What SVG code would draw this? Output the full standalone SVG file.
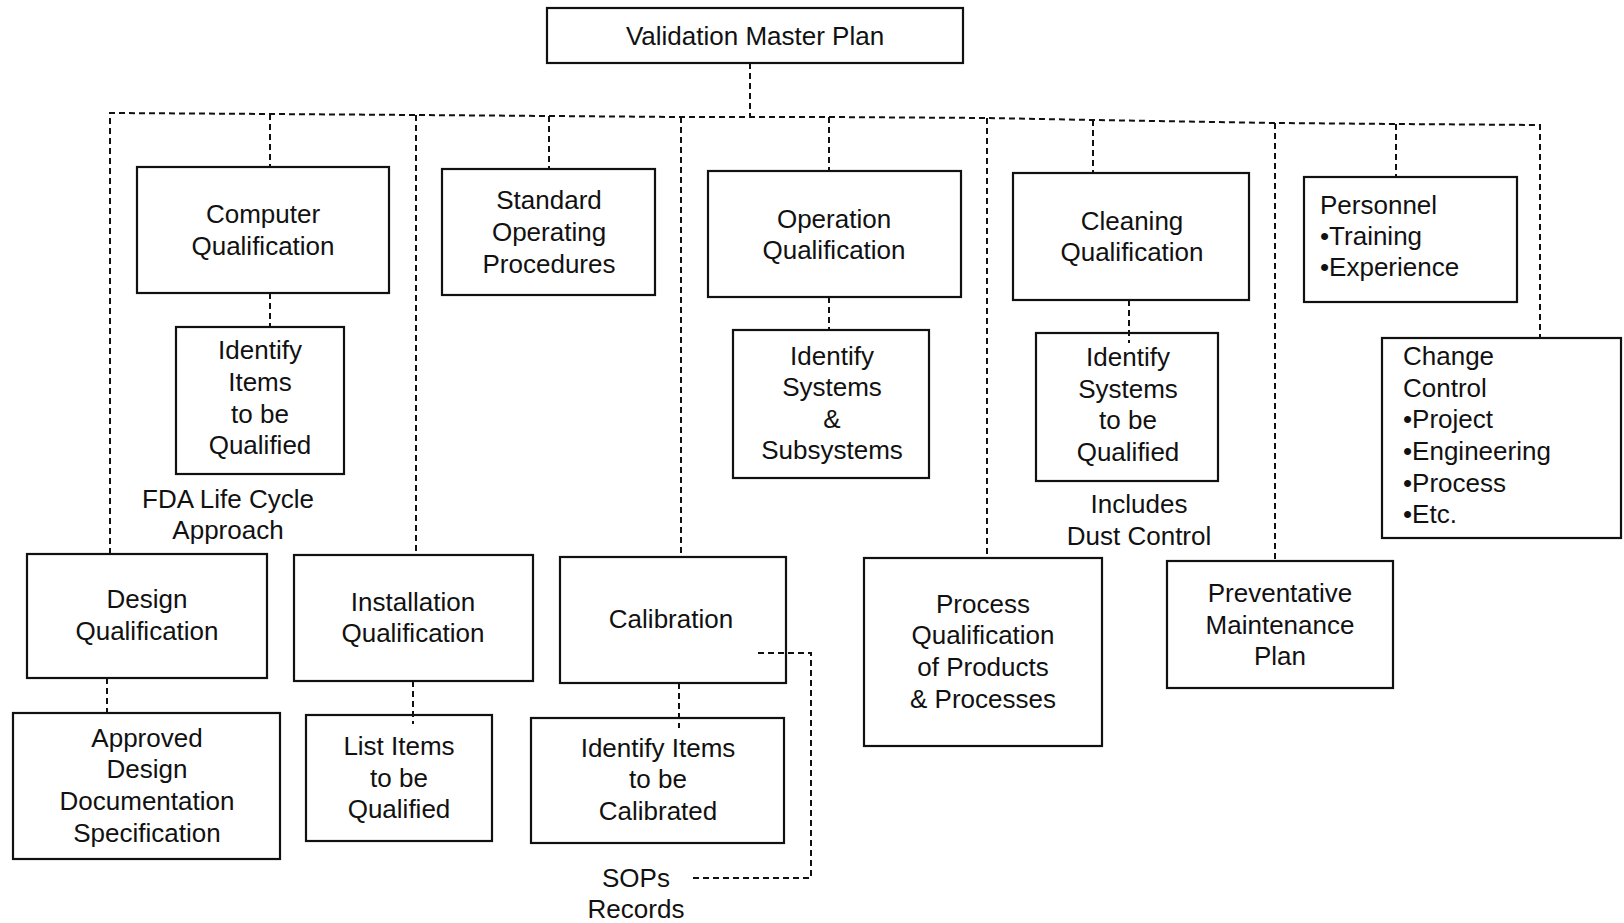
<svg xmlns="http://www.w3.org/2000/svg" width="1624" height="923" viewBox="0 0 1624 923">
<style>
.box{fill:#fff;stroke:#111;stroke-width:2.2}
.dash{fill:none;stroke:#111;stroke-width:2;stroke-dasharray:6 4}
text{font-family:"Liberation Sans",Arial,Helvetica,sans-serif;font-size:26px;fill:#111}
.c{text-anchor:middle}
</style>
<rect width="1624" height="923" fill="#fff"/>
<g id="vmp"><rect class="box" x="547" y="8" width="416" height="55"/><text class="c" x="755" y="45">Validation Master Plan</text></g>
<g id="computer-qual"><rect class="box" x="137" y="167" width="252" height="126"/><text class="c" x="263" y="223">Computer</text><text class="c" x="263" y="255">Qualification</text></g>
<g id="sop"><rect class="box" x="442" y="169" width="213" height="126"/><text class="c" x="549" y="209">Standard</text><text class="c" x="549" y="241">Operating</text><text class="c" x="549" y="273">Procedures</text></g>
<g id="operation-qual"><rect class="box" x="708" y="171" width="253" height="126"/><text class="c" x="834" y="228">Operation</text><text class="c" x="834" y="259">Qualification</text></g>
<g id="cleaning-qual"><rect class="box" x="1013" y="173" width="236" height="127"/><text class="c" x="1132" y="230">Cleaning</text><text class="c" x="1132" y="261">Qualification</text></g>
<g id="personnel"><rect class="box" x="1304" y="177" width="213" height="125"/><text x="1320" y="214">Personnel</text><text x="1320" y="245">•Training</text><text x="1320" y="276">•Experience</text></g>
<g id="identify-items"><rect class="box" x="176" y="327" width="168" height="147"/><text class="c" x="260" y="359">Identify</text><text class="c" x="260" y="391">Items</text><text class="c" x="260" y="423">to be</text><text class="c" x="260" y="454">Qualified</text></g>
<g id="fda-note"><text class="c" x="228" y="508">FDA Life Cycle</text><text class="c" x="228" y="539">Approach</text></g>
<g id="identify-systems"><rect class="box" x="733" y="330" width="196" height="148"/><text class="c" x="832" y="365">Identify</text><text class="c" x="832" y="396">Systems</text><text class="c" x="832" y="428">&amp;</text><text class="c" x="832" y="459">Subsystems</text></g>
<g id="identify-systems-qual"><rect class="box" x="1036" y="333" width="182" height="148"/><text class="c" x="1128" y="366">Identify</text><text class="c" x="1128" y="398">Systems</text><text class="c" x="1128" y="429">to be</text><text class="c" x="1128" y="461">Qualified</text></g>
<g id="dust-note"><text class="c" x="1139" y="513">Includes</text><text class="c" x="1139" y="545">Dust Control</text></g>
<g id="change-control"><rect class="box" x="1382" y="338" width="239" height="200"/><text x="1403" y="365">Change</text><text x="1403" y="397">Control</text><text x="1403" y="428">•Project</text><text x="1403" y="460">•Engineering</text><text x="1403" y="492">•Process</text><text x="1403" y="523">•Etc.</text></g>
<g id="design-qual"><rect class="box" x="27" y="554" width="240" height="124"/><text class="c" x="147" y="608">Design</text><text class="c" x="147" y="640">Qualification</text></g>
<g id="installation-qual"><rect class="box" x="294" y="555" width="239" height="126"/><text class="c" x="413" y="611">Installation</text><text class="c" x="413" y="642">Qualification</text></g>
<g id="calibration"><rect class="box" x="560" y="557" width="226" height="126"/><text class="c" x="671" y="628">Calibration</text></g>
<g id="process-qual"><rect class="box" x="864" y="558" width="238" height="188"/><text class="c" x="983" y="613">Process</text><text class="c" x="983" y="644">Qualification</text><text class="c" x="983" y="676">of Products</text><text class="c" x="983" y="708">&amp; Processes</text></g>
<g id="preventative"><rect class="box" x="1167" y="561" width="226" height="127"/><text class="c" x="1280" y="602">Preventative</text><text class="c" x="1280" y="634">Maintenance</text><text class="c" x="1280" y="665">Plan</text></g>
<g id="approved-design"><rect class="box" x="13" y="713" width="267" height="146"/><text class="c" x="147" y="747">Approved</text><text class="c" x="147" y="778">Design</text><text class="c" x="147" y="810">Documentation</text><text class="c" x="147" y="842">Specification</text></g>
<g id="list-items"><rect class="box" x="306" y="715" width="186" height="126"/><text class="c" x="399" y="755">List Items</text><text class="c" x="399" y="787">to be</text><text class="c" x="399" y="818">Qualified</text></g>
<g id="identify-calibrated"><rect class="box" x="531" y="718" width="253" height="125"/><text class="c" x="658" y="757">Identify Items</text><text class="c" x="658" y="788">to be</text><text class="c" x="658" y="820">Calibrated</text></g>
<g id="sops-note"><text class="c" x="636" y="887">SOPs</text><text class="c" x="636" y="918">Records</text></g>
<g id="connectors">
<path class="dash" d="M750 63 V117"/>
<path class="dash" d="M110 554 V113 L270 114 L416 115 L549 116 L681 117 L829 117 L988 118 L1093 120 L1276 123 L1396 124 L1540 125 V338"/>
<path class="dash" d="M270 114 V167"/>
<path class="dash" d="M270 293 V327"/>
<path class="dash" d="M416 115 V555"/>
<path class="dash" d="M549 116 V169"/>
<path class="dash" d="M681 117 V557"/>
<path class="dash" d="M829 117 V171"/>
<path class="dash" d="M829 297 V330"/>
<path class="dash" d="M987 118 V558"/>
<path class="dash" d="M1093 120 V173"/>
<path class="dash" d="M1129 300 V343"/>
<path class="dash" d="M1275 123 V561"/>
<path class="dash" d="M1396 124 V177"/>
<path class="dash" d="M107 678 V713"/>
<path class="dash" d="M413 681 V724"/>
<path class="dash" d="M679 683 V728"/>
<path class="dash" d="M758 653 H811 V878 H691"/>
</g>
</svg>
